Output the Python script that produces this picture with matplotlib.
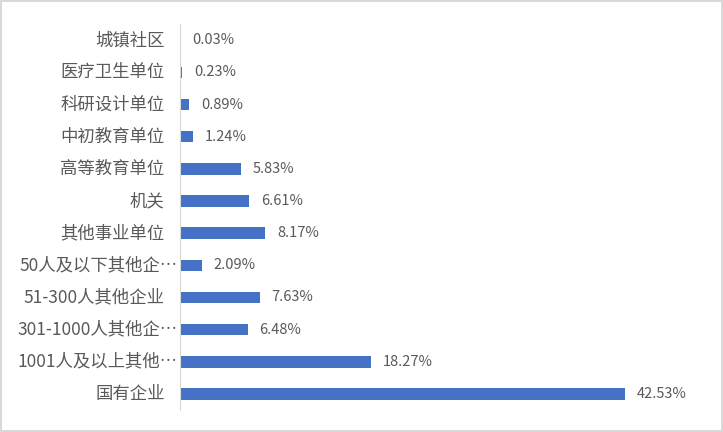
import numpy as np
from matplotlib import pyplot as plt
from matplotlib import transforms

plt.rcParams['font.family'] = ['Noto Sans CJK SC', 'DejaVu Sans']

#---- Data (top to bottom)

categories = ['城镇社区', '医疗卫生单位', '科研设计单位', '中初教育单位', '高等教育单位',
              '机关', '其他事业单位', '50人及以下其他企…', '51-300人其他企业',
              '301-1000人其他企…', '1001人及以上其他…', '国有企业']
values = [0.03, 0.23, 0.89, 1.24, 5.83, 6.61, 8.17, 2.09, 7.63, 6.48, 18.27, 42.53]
labels = ['0.03%', '0.23%', '0.89%', '1.24%', '5.83%', '6.61%', '8.17%', '2.09%',
          '7.63%', '6.48%', '18.27%', '42.53%']

#---- Figure

fig = plt.figure(figsize=(7.23, 4.32), dpi=100)
fig.patch.set_edgecolor('#d9d9d9')
fig.patch.set_linewidth(1.5)
ax = fig.add_axes([0.249, 0.051, 0.651, 0.893])

y = np.arange(len(categories))
ax.barh(y, values, height=0.36, color='#4472C4')

for yi, v, lab in zip(y, values, labels):
    ax.text(v + 1.1, yi, lab, va='center', ha='left', fontsize=10.5, color='#595959')

# category labels: truncated ones hang their ellipsis past the normal right edge
base = ax.get_yaxis_transform()
for yi, cat in zip(y, categories):
    dx = -1.5 if cat.endswith('…') else -11
    tr = base + transforms.ScaledTranslation(dx / 72, 0, fig.dpi_scale_trans)
    ax.text(0, yi, cat, transform=tr, ha='right', va='center',
            fontsize=12.5, color='#595959')

ax.set_yticks([])
ax.set_ylim(len(categories) - 0.5, -0.5)
ax.set_xlim(0, 45)
ax.set_xticks([])

for s in ['top', 'right', 'bottom']:
    ax.spines[s].set_visible(False)
ax.spines['left'].set_color('#d9d9d9')

fig.savefig('out.png', dpi=100, edgecolor=fig.get_edgecolor())
